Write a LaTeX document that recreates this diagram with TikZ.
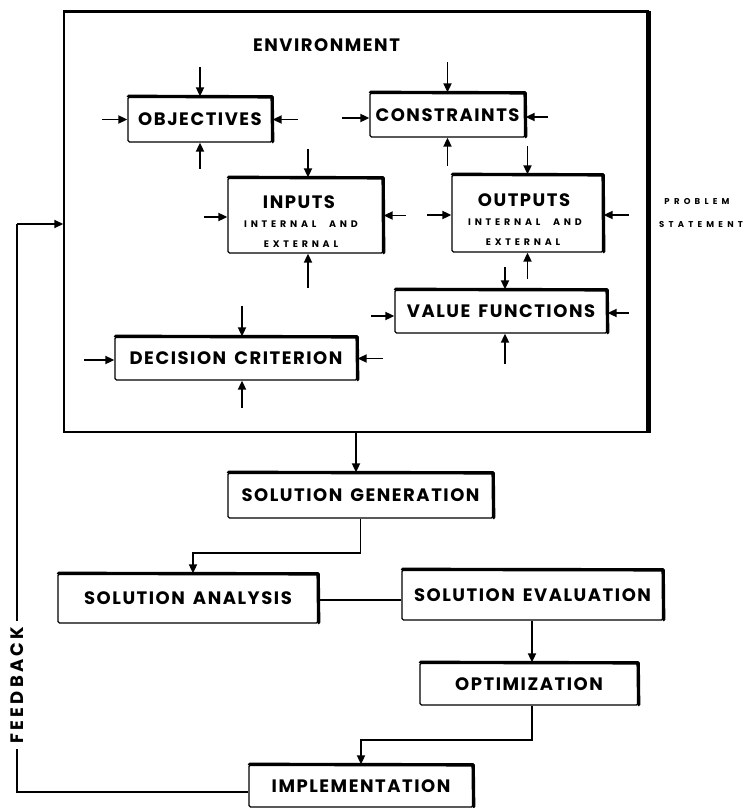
\documentclass[tikz,border=0pt]{standalone}
\usepackage{fontspec}
\setmainfont{Poppins}
\newfontfamily\lblfont{Poppins}[LetterSpace=8.5, WordSpace=1.5]
\newfontfamily\smallfont{Poppins}[LetterSpace=40, WordSpace=2.2]
\newfontfamily\psfont{Poppins}[LetterSpace=50]
\newfontfamily\fbfont{Poppins}[LetterSpace=18]
\usetikzlibrary{arrows.meta,calc}
\tikzset{
  box/.style={draw, line width=1.3pt, rounded corners=1.5pt, inner sep=0pt,
    font=\lblfont\bfseries\fontsize{18}{20}\selectfont, align=center},
  arr/.style={line width=1.8pt, -{Triangle[length=9pt,width=8pt]}},
  conn/.style={line width=1.3pt},
  heavy/.style={line width=3.4pt, line cap=round, line join=round},
  lbl/.style={font=\lblfont\bfseries\fontsize{18}{20}\selectfont, inner sep=0pt},
  sml/.style={font=\smallfont\bfseries\fontsize{9.5}{11}\selectfont, inner sep=0pt}
}
\begin{document}
\begin{tikzpicture}[x=1pt,y=-1pt]
\useasboundingbox (0,0) rectangle (750,808);
% environment
\node[draw, line width=1.4pt, minimum width=584pt, minimum height=420pt, inner sep=0pt] (env) at (356,222) {};
\draw[line width=3pt] (env.north west) -- (env.north east);
\draw[line width=5pt] (env.north east) -- (env.south east);
\node[lbl] (envtxt) at (326.5,45) {ENVIRONMENT};

% inner boxes
\node[box, minimum width=144pt, minimum height=45pt] (obj) at (200,119.5) {OBJECTIVES};
\node[box, minimum width=155pt, minimum height=44pt] (con) at (447.5,115) {CONSTRAINTS};
\node[box, minimum width=155pt, minimum height=75pt] (inp) at (305.5,215.5) {};
\node[lbl] (inpt) at (299,202) {INPUTS};
\node[sml] (inp1) at (301,224) {INTERNAL AND};
\node[sml] (inp2) at (301,244) {EXTERNAL};
\node[box, minimum width=151pt, minimum height=77pt] (out) at (527.5,213.5) {};
\node[lbl] (outt) at (524,200) {OUTPUTS};
\node[sml] (out1) at (525,222) {INTERNAL AND};
\node[sml] (out2) at (523,242) {EXTERNAL};
\node[box, minimum width=212pt, minimum height=43pt] (vf) at (501,311.5) {VALUE FUNCTIONS};
\node[box, minimum width=242pt, minimum height=43pt] (dc) at (236,358.5) {DECISION CRITERION};

% flow boxes
\node[box, minimum width=265pt, minimum height=45pt] (sg) at (360.5,495.5) {SOLUTION GENERATION};
\node[box, minimum width=260pt, minimum height=49pt] (sa) at (188,598.5) {SOLUTION ANALYSIS};
\node[box, minimum width=261pt, minimum height=50pt] (se) at (532.5,595) {SOLUTION EVALUATION};
\node[box, minimum width=218pt, minimum height=42pt] (opt) at (529,684) {OPTIMIZATION};
\node[box, minimum width=224pt, minimum height=42pt] (impl) at (361,786) {IMPLEMENTATION};

\foreach \b in {obj,con,inp,out,vf,dc,sg,sa,se,opt,impl}{
  \draw[heavy] ([xshift=1pt]\b.north west) -- ([xshift=-0.5pt,yshift=-0.5pt]\b.north east) -- ([yshift=1pt]\b.south east);
}

% arrows around OBJECTIVES
\draw[arr] ($(obj.north)+(0,-29)$) -- (obj.north);
\draw[arr] ($(obj.south)+(0,26)$) -- (obj.south);
\draw[arr] ($(obj.west)+(-25,0)$) -- (obj.west);
\draw[arr] ($(obj.east)+(25,0)$) -- (obj.east);
% CONSTRAINTS
\draw[arr] ($(con.north)+(0,-30)$) -- (con.north);
\draw[arr] ($(con.south)+(0,28)$) -- (con.south);
\draw[arr] ($(con.west)+(-27,3)$) -- ($(con.west)+(0,3)$);
\draw[arr] ($(con.east)+(22,2)$) -- ($(con.east)+(0,2)$);
% INPUTS
\draw[arr] ($(inp.north)+(2.5,-28)$) -- ($(inp.north)+(2.5,0)$);
\draw[arr] ($(inp.south)+(2.5,34)$) -- ($(inp.south)+(2.5,0)$);
\draw[arr] ($(inp.west)+(-23,1.5)$) -- ($(inp.west)+(0,1.5)$);
\draw[arr] ($(inp.east)+(22,0)$) -- (inp.east);
% OUTPUTS
\draw[arr] ($(out.north)+(0,-28)$) -- (out.north);
\draw[arr] ($(out.south)+(0,26)$) -- (out.south);
\draw[arr] ($(out.west)+(-24,1.5)$) -- ($(out.west)+(0,1.5)$);
\draw[arr] ($(out.east)+(25,1.5)$) -- ($(out.east)+(0,1.5)$);
% VALUE FUNCTIONS
\draw[arr] ($(vf.north)+(4,-22)$) -- ($(vf.north)+(4,0)$);
\draw[arr] ($(vf.south)+(4,30)$) -- ($(vf.south)+(4,0)$);
\draw[arr] ($(vf.west)+(-23,4.5)$) -- ($(vf.west)+(0,4.5)$);
\draw[arr] ($(vf.east)+(21,1.5)$) -- ($(vf.east)+(0,1.5)$);
% DECISION CRITERION
\draw[arr] ($(dc.north)+(6,-30)$) -- ($(dc.north)+(6,0)$);
\draw[arr] ($(dc.south)+(6,27)$) -- ($(dc.south)+(6,0)$);
\draw[arr] ($(dc.west)+(-30,1.5)$) -- ($(dc.west)+(0,1.5)$);
\draw[arr] ($(dc.east)+(25,0)$) -- (dc.east);

% problem statement
\node[inner sep=0pt, font=\psfont\bfseries\fontsize{8.5}{10}\selectfont] (ps1) at (697,202) {PROBLEM};
\node[inner sep=0pt, font=\psfont\bfseries\fontsize{8.5}{10}\selectfont] (ps2) at (701,225) {STATEMENT};

% flow connectors
\draw[arr] ([xshift=-4.5pt]sg.north |- env.south) -- ([xshift=-4.5pt]sg.north);
\draw[arr] (sg.south) -- (sg.south |- 0,553) -| ([xshift=5pt]sa.north);
\draw[conn] (sa.east |- 0,600) -- (se.west |- 0,600);
\draw[arr] ([xshift=-0.5pt]se.south) -- ([xshift=-0.5pt]se.south |- opt.north);
\draw[arr] ([xshift=3pt]opt.south) -- ([xshift=3pt]opt.south |- 0,740) -| (impl.north);

% feedback
\coordinate (fbk) at (17,224);
\draw[conn] (impl.west |- 0,792) -| (fbk);
\draw[arr] (fbk) -- (env.west |- fbk);
\node[rotate=90, fill=white, inner xsep=6pt, inner ysep=1pt, font=\fbfont\bfseries\fontsize{18}{20}\selectfont] (fbtxt) at (17,685) {FEEDBACK};
\end{tikzpicture}
\end{document}
